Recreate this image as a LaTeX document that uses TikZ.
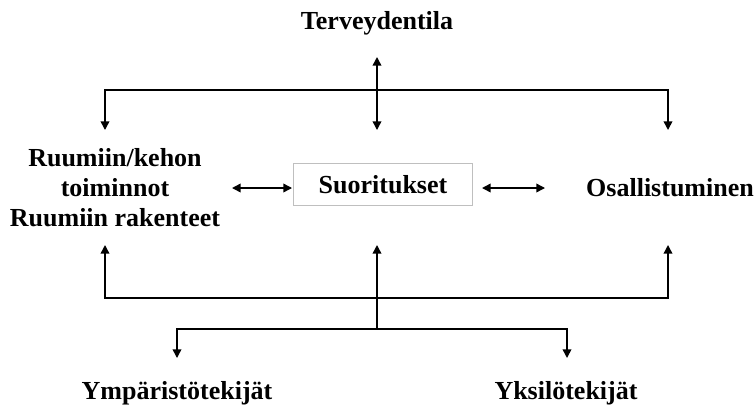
\documentclass[tikz,border=0pt]{standalone}
\usepackage{fontspec}
\setmainfont{Liberation Serif}
\usetikzlibrary{arrows.meta}
\begin{document}
\begin{tikzpicture}[x=0.75pt,y=-0.75pt,
  lbl/.style={font=\fontsize{19.5}{22.5}\selectfont\bfseries, align=center, inner sep=0pt},
  tip/.style={Triangle[length=6.5pt,width=6.5pt]},
  conn/.style={line width=1.1pt, -{Triangle[length=6.5pt,width=6.5pt]}},
  dconn/.style={line width=1.1pt, {Triangle[length=6.5pt,width=6.5pt]}-{Triangle[length=6.5pt,width=6.5pt]}},
  plain/.style={line width=1.1pt}]
\useasboundingbox (0,0) rectangle (755,411);
\node[lbl] (ter) at (377,23) {Terveydentila};
\node[lbl] (ruu) at (115,188) {Ruumiin/kehon\\toiminnot\\Ruumiin rakenteet};
\node[lbl, draw=black!25, line width=0.8pt, fill=white, minimum width=134pt, minimum height=32pt] (suo) at (383,184.5) {Suoritukset};
\node[lbl] (osa) at (670,188) {Osallistuminen};
\node[lbl] (ymp) at (177,393) {Ympäristötekijät};
\node[lbl] (yks) at (566,393) {Yksilötekijät};
% top bracket
\coordinate (tA) at (377,57);
\coordinate (tB) at (377,130);
\coordinate (tH) at (377,90);
\coordinate (tL) at (105,130);
\coordinate (tR) at (668,130);
\draw[dconn] (tA) -- (tB);
\draw[conn] (tH) -| (tL);
\draw[conn] (tH) -| (tR);
% middle arrows
\coordinate (mL1) at (232,188);
\coordinate (mL2) at (292,188);
\coordinate (mR1) at (482,188);
\coordinate (mR2) at (545,188);
\draw[dconn] (mL1) -- (mL2);
\draw[dconn] (mR1) -- (mR2);
% bottom bracket
\coordinate (bL) at (105,245);
\coordinate (bR) at (668,245);
\coordinate (bC) at (377,245);
\coordinate (bH) at (377,298);
\coordinate (bJ) at (377,329);
\draw[plain] (bJ) -- (bH);
\draw[conn] (bH) -- (bC);
\draw[conn] (bH) -| (bL);
\draw[conn] (bH) -| (bR);
\coordinate (yL) at (177,358);
\coordinate (yR) at (567,358);
\draw[conn] (bJ) -| (yL);
\draw[conn] (bJ) -| (yR);
\end{tikzpicture}
\end{document}
